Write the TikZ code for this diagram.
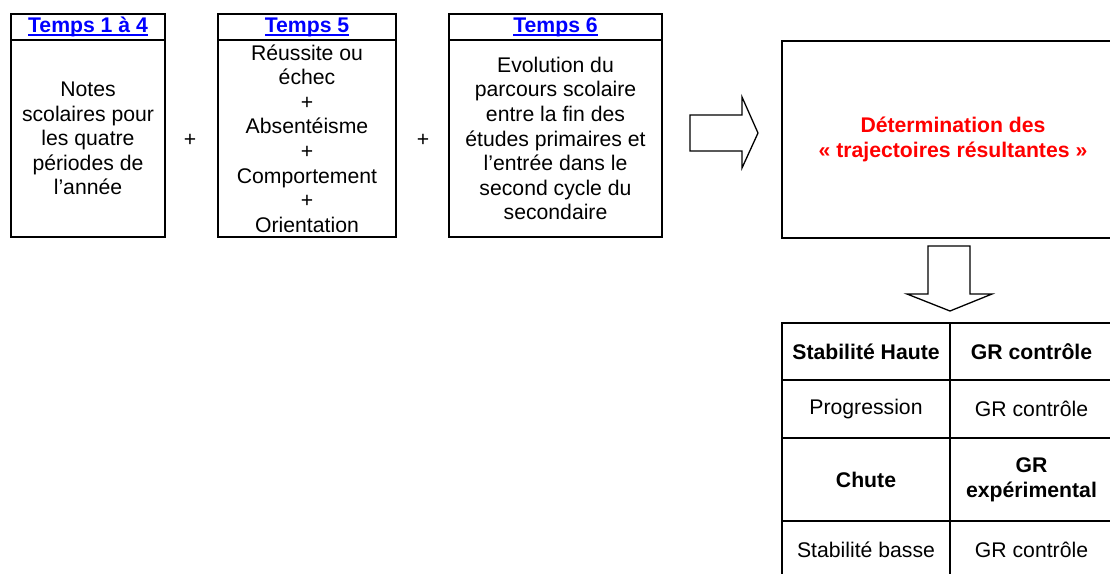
\documentclass[tikz,border=0pt]{standalone}
\usepackage{fontspec}
\setmainfont{Liberation Sans}
\definecolor{hdrblue}{RGB}{0,0,255}
\definecolor{resred}{RGB}{255,0,0}
% underlined blue heading, rule just under the baseline
\newcommand\hdrtext[1]{\setbox0\hbox{\bfseries #1}\rlap{\rule[-3.8pt]{\wd0}{1.9pt}}\box0}
\newcommand\bodysize{\fontsize{21.2}{24.6}\selectfont}
\tikzset{
  txt/.style={font=\bodysize, align=center, inner sep=0pt},
  box/.style={draw, line width=2pt, txt},
  blockarrow/.style={draw, line width=1.3pt, line join=miter, fill=white},
  cell/.style={draw, line width=2pt, txt},
  boldcell/.style={cell, font=\bodysize\bfseries}
}
\begin{document}
\begin{tikzpicture}[x=1pt, y=-1pt]
\useasboundingbox (0,0) rectangle (1110,573);
\clip (0,0) rectangle (1110,573);

% --- the three input blocks (heading + body) ---
\node[box, minimum width=154, minimum height=26, text=hdrblue] (h1) at (88,27) {\hdrtext{Temps 1 à 4}};
\node[box, minimum width=154, minimum height=197] (t1) at (88,138.5)
  {Notes\\scolaires pour\\les quatre\\périodes de\\l’année};

\node[box, minimum width=178, minimum height=26, text=hdrblue] (h2) at (307,27) {\hdrtext{Temps 5}};
\node[box, minimum width=178, minimum height=197] (t2) at (307,138.5)
  {Réussite ou\\échec\\+\\Absentéisme\\+\\Comportement\\+\\Orientation};

\node[box, minimum width=213, minimum height=26, text=hdrblue] (h3) at (555.5,27) {\hdrtext{Temps 6}};
\node[box, minimum width=213, minimum height=197] (t3) at (555.5,138.5)
  {Evolution du\\parcours scolaire\\entre la fin des\\études primaires et\\l’entrée dans le\\second cycle du\\secondaire};

\node[txt] (p1) at (190,140) {+};
\node[txt] (p2) at (423,140) {+};

% --- result block ---
\node[box, minimum width=342, minimum height=197, text=resred, font=\bodysize\bfseries]
  (res) at (953,139.5) {Détermination des\\«~trajectoires résultantes~»};

% --- block arrows ---
\draw[blockarrow] (690,115) -- (742,115) -- (742,97) -- (758,133) -- (742,168)
  -- (742,151) -- (690,151) -- cycle;
\draw[blockarrow] (928,246) -- (970,246) -- (970,294) -- (992,294) -- (950,311)
  -- (907,294) -- (928,294) -- cycle;

% --- result table ---
\node[boldcell, minimum width=168, minimum height=57] (a1) at (866,351.5) {Stabilité Haute};
\node[boldcell, minimum width=163, minimum height=57] (b1) at (1031.5,351.5) {GR contrôle};
\node[cell, minimum width=168, minimum height=58] (a2) at (866,409) {Progression};
\node[cell, minimum width=163, minimum height=58] (b2) at (1031.5,409) {GR contrôle};
\node[boldcell, minimum width=168, minimum height=83] (a3) at (866,479.5) {Chute};
\node[boldcell, minimum width=163, minimum height=83] (b3) at (1031.5,479.5) {GR\\expérimental};
\node[cell, minimum width=168, minimum height=57] (a4) at (866,549.5) {Stabilité basse};
\node[cell, minimum width=163, minimum height=57] (b4) at (1031.5,549.5) {GR contrôle};
\end{tikzpicture}
\end{document}
